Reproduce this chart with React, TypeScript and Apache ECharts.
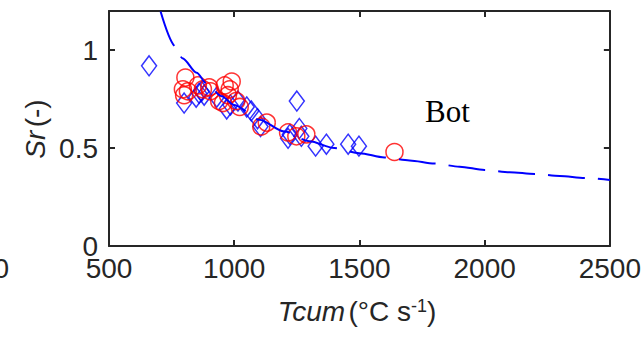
import React, { useEffect, useRef } from "react";
import * as echarts from "echarts";

// Fitted curve (dashed blue)
const curveX = [706, 766, 793, 850, 889, 950, 1000, 1100, 1200, 1300, 1400, 1500, 1600, 1700, 1800, 1900, 2000, 2100, 2200, 2300, 2400, 2500];
const curveY = [1.197, 1.018, 0.959, 0.885, 0.831, 0.765, 0.72, 0.645, 0.585, 0.535, 0.5, 0.474, 0.452, 0.437, 0.421, 0.405, 0.388, 0.377, 0.368, 0.358, 0.347, 0.337];

// Blue diamonds
const blueX = [660, 800, 848, 860, 870, 880, 930, 970, 985, 1015, 1050, 1068, 1093, 1105, 1215, 1222, 1250, 1260, 1268, 1325, 1368, 1455, 1498];
const blueY = [0.92, 0.73, 0.76, 0.78, 0.79, 0.77, 0.76, 0.7, 0.72, 0.74, 0.71, 0.69, 0.65, 0.61, 0.55, 0.57, 0.74, 0.6, 0.56, 0.51, 0.52, 0.52, 0.51];

// Red circles
const redX = [805, 795, 800, 815, 855, 875, 900, 905, 940, 955, 962, 975, 982, 990, 1008, 1022, 1108, 1130, 1215, 1248, 1288, 1640];
const redY = [0.86, 0.8, 0.77, 0.79, 0.82, 0.8, 0.81, 0.79, 0.74, 0.73, 0.82, 0.77, 0.8, 0.84, 0.74, 0.71, 0.61, 0.63, 0.58, 0.56, 0.57, 0.48];

const xTicks = { min: 500, max: 2500, interval: 500 };
const yTicks = { min: 0, max: 1.2, interval: 0.5 };

const AX = "#262626";
const FONT = "'Liberation Sans Narrow', 'Arial Narrow', 'Liberation Sans', sans-serif";

export default function App() {
  const ref = useRef<HTMLDivElement>(null);
  useEffect(() => {
    if (!ref.current) return;
    const chart = echarts.init(ref.current, undefined, { renderer: "svg" });
    const zip = (xs: number[], ys: number[]) => xs.map((x, i) => [x, ys[i]]);
    const axisCommon = {
      axisLine: { show: true, onZero: false, lineStyle: { color: AX, width: 2 } },
      axisTick: { show: true, inside: true, length: 6, lineStyle: { color: AX, width: 2 } },
      splitLine: { show: false },
    };
    chart.setOption({
      animation: false,
      backgroundColor: "#fff",
      grid: { left: 109, right: 33, top: 11, bottom: 93, containLabel: false },
      xAxis: [
        {
          type: "value", position: "bottom", ...xTicks, ...axisCommon,
          axisLabel: { color: AX, fontSize: 28, fontFamily: FONT, margin: 8,
            formatter: (v: number) => String(v) },
        },
        {
          type: "value", position: "top", ...xTicks, ...axisCommon,
          axisLabel: { show: false },
        },
      ],
      yAxis: [
        {
          type: "value", position: "left", ...yTicks, ...axisCommon,
          axisLabel: { color: AX, fontSize: 28, fontFamily: FONT, margin: 11, showMaxLabel: false,
            formatter: (v: number) => String(v) },
        },
        {
          type: "value", position: "right", ...yTicks, ...axisCommon,
          axisLabel: { show: false },
        },
      ],
      series: [
        {
          type: "scatter", data: zip(blueX, blueY), symbol: "diamond", symbolSize: [15, 20],
          itemStyle: { color: "rgba(0,0,0,0)", borderColor: "#0000ff", borderWidth: 1.5 },
          z: 2,
        },
        {
          type: "scatter", data: zip(redX, redY), symbol: "circle", symbolSize: 17,
          itemStyle: { color: "rgba(0,0,0,0)", borderColor: "#ff0000", borderWidth: 1.5 },
          z: 3,
        },
        {
          type: "line", data: zip(curveX, curveY), showSymbol: false, symbol: "none",
          smooth: 0.3, smoothMonotone: "x",
          lineStyle: { color: "#0000ff", width: 2, type: [37, 13] },
          z: 4,
        },
      ],
      graphic: [
        {
          type: "text", left: 425, top: 96,
          style: { text: "Bot", fill: "#000", fontSize: 31, fontFamily: "'Liberation Serif', 'Times New Roman', serif" },
        },
        {
          type: "text", x: 357, y: 311,
          style: {
            text: "{i|Tcum} {n|(°C s}{s|-1}{n|)}",
            align: "center", verticalAlign: "middle",
            rich: {
              i: { fontSize: 28, fontFamily: FONT, fontStyle: "italic", fill: AX, color: AX },
              n: { fontSize: 28, fontFamily: FONT, fill: AX, color: AX },
              s: { fontSize: 18, fontFamily: FONT, fill: AX, color: AX, verticalAlign: "top" },
            },
          },
        },
        {
          type: "text", x: 35, y: 129, rotation: Math.PI / 2,
          style: {
            text: "{i|Sr} {n|(-)}",
            align: "center", verticalAlign: "middle",
            rich: {
              i: { fontSize: 28, fontFamily: FONT, fontStyle: "italic", fill: AX, color: AX },
              n: { fontSize: 28, fontFamily: FONT, fill: AX, color: AX },
            },
          },
        },
        {
          type: "text", x: 9, y: 268,
          style: { text: "2500", align: "right", verticalAlign: "middle", fontSize: 28, fontFamily: FONT, fill: AX },
        },
      ],
    });
    return () => chart.dispose();
  }, []);
  return <div ref={ref} style={{ position: "absolute", left: 0, top: 0, width: 644, height: 339 }} />;
}
